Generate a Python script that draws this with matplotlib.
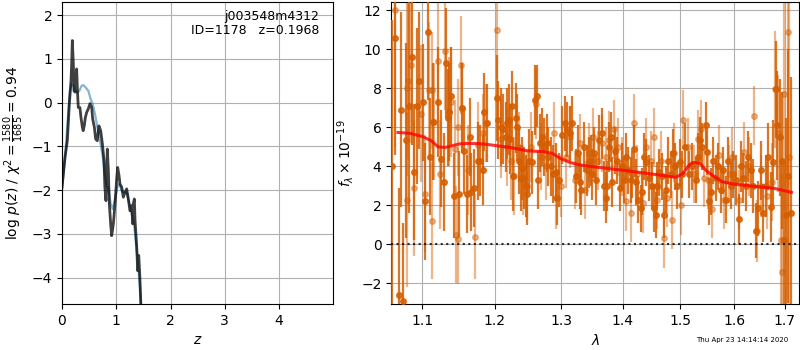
import numpy as np
import matplotlib
matplotlib.use("Agg")
import matplotlib.pyplot as plt
from matplotlib.ticker import NullLocator, NullFormatter

# p(z) curves
z_fit = [0.0, 0.055, 0.098, 0.135, 0.166, 0.178, 0.19, 0.209, 0.221, 0.24, 0.258, 0.27, 0.283,
         0.30, 0.33, 0.35, 0.375, 0.39, 0.41, 0.43, 0.455, 0.485, 0.516, 0.547, 0.565, 0.596,
         0.62, 0.65, 0.68, 0.713, 0.744, 0.774, 0.79, 0.81, 0.824, 0.835, 0.854, 0.872, 0.897,
         0.915, 0.946, 0.977, 1.008, 1.026, 1.051, 1.069, 1.10, 1.13, 1.161, 1.192, 1.222,
         1.253, 1.285, 1.303, 1.315, 1.333, 1.346, 1.377, 1.395, 1.414, 1.432, 1.45, 1.456]
logp_fit = [-1.93, -1.25, -0.87, -0.03, 0.50, 0.88, 1.42, 0.88, 0.27, 0.24, 0.31, 0.77, 0.31,
            -0.11, -0.11, -0.34, -0.56, -0.64, -0.53, -0.34, -0.22, -0.14, -0.02, -0.11, -0.37,
            -0.56, -0.83, -0.87, -0.53, -0.64, -0.94, -1.32, -1.93, -2.24, -1.55, -1.06, -1.55,
            -2.31, -2.77, -3.04, -2.77, -2.31, -1.74, -1.48, -1.67, -1.86, -1.93, -2.16, -2.05,
            -1.97, -2.20, -2.47, -2.35, -2.77, -2.31, -2.20, -2.69, -3.30, -3.84, -3.49, -3.91,
            -4.52, -4.67]

z_smooth = [0.0, 0.06, 0.117, 0.147, 0.178, 0.209, 0.24, 0.283, 0.32, 0.363, 0.393, 0.442,
            0.485, 0.529, 0.565, 0.608, 0.651, 0.70, 0.744, 0.78, 0.824, 0.854, 0.897, 0.934,
            0.977, 1.02, 1.057, 1.10, 1.143, 1.192, 1.241, 1.285, 1.327, 1.364, 1.40, 1.438,
            1.456]
logp_smooth = [-2.0, -1.2, -0.18, 0.27, 0.43, 0.39, 0.27, 0.24, 0.27, 0.39, 0.40, 0.34,
               0.27, 0.08, -0.03, -0.26, -0.56, -0.87, -1.17, -1.55, -1.93, -1.93, -2.31,
               -2.43, -2.20, -1.93, -1.86, -2.01, -2.05, -2.05, -2.31, -2.54, -2.77, -3.23,
               -3.68, -4.22, -4.67]

# spectrum, first orientation
wave_a = [1.0615, 1.0644, 1.0695, 1.0722, 1.0756, 1.0786, 1.0829, 1.0869, 1.0895, 1.0929,
          1.0963, 1.1010, 1.1036, 1.1074, 1.1112, 1.1151, 1.1215, 1.1249, 1.1288, 1.1315,
          1.1349, 1.1362, 1.1392, 1.1435, 1.1500, 1.1540, 1.1570, 1.1605, 1.1653, 1.1662,
          1.1707, 1.1769, 1.1799, 1.1831, 1.1853, 1.1893, 1.2041, 1.2051, 1.2089, 1.2128,
          1.2162, 1.2186, 1.2211, 1.2225, 1.2260, 1.2274, 1.2308, 1.2333, 1.2358, 1.2382,
          1.2407, 1.2432, 1.2457, 1.2482, 1.2507, 1.2557, 1.2592, 1.2622, 1.2648, 1.2673,
          1.2708, 1.2734, 1.2775, 1.2800, 1.2836, 1.2877, 1.2913, 1.2939, 1.2970, 1.3017,
          1.3054, 1.3096, 1.3138, 1.3175, 1.3228, 1.3265, 1.3297, 1.3319, 1.3362, 1.3405,
          1.3443, 1.3470, 1.3497, 1.3523, 1.3561, 1.3605, 1.3649, 1.3687, 1.3714, 1.3742,
          1.3769, 1.3797, 1.3824, 1.3868, 1.3907, 1.3946, 1.3979, 1.4018, 1.4046, 1.4091,
          1.4131, 1.4159, 1.4193, 1.4227, 1.4261, 1.4301, 1.4330, 1.4359, 1.4399, 1.4445,
          1.4492, 1.4527, 1.4562, 1.4591, 1.4620, 1.4667, 1.4714, 1.4750, 1.4785, 1.4827,
          1.4869, 1.4905, 1.4947, 1.4989, 1.5037, 1.5086, 1.5159, 1.5216, 1.5278, 1.5321,
          1.5358, 1.5400, 1.5462, 1.5493, 1.5524, 1.5568, 1.5605, 1.5648, 1.5692, 1.5742,
          1.5793, 1.5837, 1.5882, 1.5933, 1.5984, 1.6029, 1.6093, 1.6126, 1.6178, 1.6223,
          1.6269, 1.6321, 1.6374, 1.6420, 1.6466, 1.6519, 1.6572, 1.6618, 1.6665, 1.6719,
          1.6773, 1.6821, 1.6855, 1.6896, 1.6937, 1.6978, 1.7026, 1.7074, 1.7129]
flux_a = [4.0, 10.6, -2.6, 6.9, -2.9, 5.35, 7.1, 9.6, 3.7, 7.1,
          8.4, 7.3, 2.2, 10.9, 4.5, 6.3, 7.3, 4.4, 3.2, 9.3,
          6.5, 6.8, 7.6, 2.5, 2.6, 7.0, 4.8, 2.6, 5.5, 2.7,
          2.9, 4.3, 4.3, 3.8, 6.8, 6.2, 7.5, 6.4, 6.0, 5.9,
          5.5, 6.2, 6.4, 5.4, 7.1, 3.5, 6.5, 6.0, 4.3, 3.4,
          3.9, 3.4, 3.0, 2.6, 4.3, 4.2, 7.4, 7.6, 3.3, 5.2,
          5.5, 5.0, 5.2, 4.5, 4.0, 3.6, 3.7, 2.4, 3.3, 5.6,
          6.2, 5.9, 5.7, 6.2, 3.5, 4.7, 3.2, 2.8, 5.0, 3.8,
          4.2, 4.3, 3.6, 4.7, 3.3, 5.35, 5.7, 3.0, 2.4, 3.0,
          5.0, 5.5, 3.2, 4.8, 4.3, 2.9, 4.0, 3.3, 4.5, 3.8,
          3.3, 3.6, 4.9, 3.2, 2.3, 1.85, 2.7, 4.5, 4.2, 3.4,
          3.0, 1.85, 1.5, 3.0, 3.7, 3.5, 1.5, 2.8, 4.3, 3.6,
          4.7, 4.0, 3.0, 4.2, 3.6, 5.0, 3.6, 4.0, 3.3, 4.5,
          5.35, 5.0, 6.1, 4.75, 2.2, 2.7, 4.3, 3.4, 4.0, 2.8,
          3.8, 2.3, 4.3, 3.0, 3.6, 3.3, 1.3, 4.0, 3.4, 3.0,
          4.5, 3.8, 3.0, 0.7, 1.85, 3.8, 1.6, 3.0, 4.5, 1.9,
          4.2, 7.95, 6.1, 5.5, 4.3, 0.2, 1.5, 3.5, 1.6]
err_a = [7.5, 6.0, 5.5, 5.0, 4.0, 5.0, 5.5, 4.5, 3.5, 4.0,
         3.5, 3.0, 3.0, 3.5, 3.0, 3.0, 2.8, 2.5, 2.5, 2.8,
         2.5, 2.5, 2.5, 2.2, 2.2, 2.3, 2.2, 2.0, 2.0, 2.0,
         2.0, 2.0, 1.8, 1.8, 2.0, 2.0, 2.2, 2.0, 2.0, 1.8,
         1.8, 1.8, 1.8, 1.8, 1.8, 1.8, 1.8, 1.7, 1.7, 1.7,
         1.6, 1.6, 1.6, 1.6, 1.6, 1.6, 1.8, 1.6, 1.5, 1.5,
         1.5, 1.5, 1.5, 1.5, 1.5, 1.5, 1.5, 1.4, 1.4, 1.5,
         1.4, 1.4, 1.4, 1.4, 1.4, 1.4, 1.4, 1.3, 1.3, 1.3,
         1.3, 1.3, 1.3, 1.3, 1.3, 1.3, 1.3, 1.3, 1.3, 1.3,
         1.3, 1.3, 1.3, 1.2, 1.2, 1.2, 1.2, 1.2, 1.2, 1.2,
         1.2, 1.2, 1.2, 1.2, 1.2, 1.2, 1.2, 1.2, 1.2, 1.2,
         1.2, 1.2, 1.2, 1.2, 1.2, 1.2, 1.2, 1.2, 1.2, 1.2,
         1.2, 1.2, 1.2, 1.2, 1.2, 1.2, 1.2, 1.2, 1.2, 1.2,
         1.2, 1.2, 1.2, 1.2, 1.2, 1.2, 1.2, 1.2, 1.2, 1.2,
         1.2, 1.2, 1.2, 1.2, 1.2, 1.3, 1.3, 1.3, 1.3, 1.3,
         1.3, 1.4, 1.4, 1.4, 1.4, 1.5, 1.5, 1.6, 1.7, 1.8,
         2.2, 2.5, 2.8, 3.0, 3.5, 4.0, 5.0, 6.5, 7.0]

# spectrum, second orientation
wave_b = [1.0650, 1.0799, 1.0801, 1.0816, 1.0855, 1.0895, 1.0984, 1.1036, 1.1087, 1.1126,
          1.1138, 1.1164, 1.1215, 1.1245, 1.1306, 1.1358, 1.1388, 1.1444, 1.1457, 1.1483,
          1.1492, 1.1522, 1.1540, 1.1618, 1.1715, 1.1760, 1.1840, 1.1880, 1.2041, 1.2099,
          1.2176, 1.2235, 1.2284, 1.2358, 1.2422, 1.2472, 1.2532, 1.2607, 1.2683, 1.2760,
          1.2892, 1.2918, 1.2998, 1.3078, 1.3133, 1.3215, 1.3297, 1.3370, 1.3437, 1.3505,
          1.3594, 1.3660, 1.3725, 1.3769, 1.3852, 1.3923, 1.3990, 1.4057, 1.4136, 1.4182,
          1.4244, 1.4342, 1.4388, 1.4474, 1.4533, 1.4591, 1.4650, 1.4708, 1.4768, 1.4845,
          1.4887, 1.5008, 1.5050, 1.5130, 1.5247, 1.5321, 1.5383, 1.5431, 1.5506, 1.5587,
          1.5711, 1.5805, 1.5900, 1.5964, 1.6093, 1.6191, 1.6288, 1.6387, 1.6440, 1.6519,
          1.6652, 1.6753, 1.6801, 1.6869, 1.6924, 1.6937, 1.6992, 1.7061, 1.7095]
flux_b = [12.0, 8.0, 2.3, 8.4, 9.2, 2.9, 6.7, 2.6, 7.9, 1.2,
          7.9, 6.3, 9.4, 3.6, 9.9, 6.8, 7.3, 4.9, 0.5, 6.0,
          0.26, 9.2, 7.0, 3.8, 0.4, 5.1, 5.7, 6.2, 11.0, 5.4,
          5.0, 4.3, 3.5, 5.0, 3.3, 3.0, 5.0, 7.2, 4.5, 4.0,
          5.7, 2.4, 3.0, 4.5, 5.5, 3.3, 5.2, 2.8, 4.7, 5.5,
          4.3, 5.2, 4.5, 5.35, 5.9, 5.0, 4.0, 2.2, 1.6, 6.2,
          3.6, 2.1, 5.0, 4.3, 5.5, 2.3, 4.3, 0.3, 2.4, 1.25,
          4.7, 2.0, 6.4, 5.0, 3.6, 5.4, 5.9, 3.4, 3.3, 1.8,
          4.6, 2.3, 3.6, 4.5, 2.3, 4.75, 4.0, 6.6, 0.7, 3.0,
          2.5, 3.2, 7.95, 5.7, 0.2, -1.4, 7.7, 10.9, 4.5]
err_b = [7.0, 4.5, 4.5, 4.0, 4.0, 3.5, 3.5, 3.0, 3.5, 3.0,
         3.0, 3.0, 3.0, 2.8, 3.0, 2.8, 2.8, 2.5, 2.5, 2.5,
         2.3, 2.5, 2.3, 2.3, 2.2, 2.2, 2.0, 2.0, 2.5, 2.0,
         2.0, 2.0, 2.0, 1.8, 1.8, 1.8, 1.8, 1.8, 1.7, 1.7,
         1.6, 1.6, 1.6, 1.6, 1.6, 1.5, 1.5, 1.5, 1.5, 1.5,
         1.5, 1.5, 1.5, 1.5, 1.5, 1.5, 1.5, 1.5, 1.5, 1.5,
         1.5, 1.5, 1.5, 1.5, 1.5, 1.5, 1.5, 1.5, 1.5, 1.5,
         1.5, 1.5, 1.5, 1.5, 1.5, 1.5, 1.5, 1.5, 1.5, 1.5,
         1.5, 1.5, 1.5, 1.5, 1.5, 1.5, 1.5, 1.5, 1.6, 1.6,
         1.7, 2.0, 3.0, 3.0, 4.0, 5.0, 6.0, 8.0, 8.0]

# best-fit model
wave_model = [1.0686, 1.085, 1.101, 1.112, 1.1215, 1.1305, 1.139, 1.150, 1.163, 1.181,
              1.199, 1.224, 1.248, 1.273, 1.286, 1.2985, 1.314, 1.330, 1.351, 1.405,
              1.462, 1.491, 1.504, 1.516, 1.522, 1.528, 1.537, 1.546, 1.558, 1.577,
              1.599, 1.645, 1.679, 1.714]
flux_model = [5.74, 5.69, 5.52, 5.32, 5.0, 4.97, 5.04, 5.15, 5.18, 5.16,
              5.08, 4.96, 4.8, 4.75, 4.67, 4.41, 4.2, 4.07, 3.98, 3.78,
              3.56, 3.44, 3.61, 4.07, 4.19, 4.2, 4.12, 3.81, 3.56, 3.21,
              3.09, 2.96, 2.87, 2.67]

xticks_spec = [1.1, 1.2, 1.3, 1.4, 1.5, 1.6, 1.7]

grism_color = (0.835, 0.369, 0.0)

fig = plt.figure(figsize=(8, 3.5), dpi=100)

# left: p(z)
ax = fig.add_axes([0.0775, 0.1314, 0.3385, 0.8629])
ax.plot(z_smooth, logp_smooth, color='#1f77b4', alpha=0.55, lw=1.6)
ax.plot(z_fit, logp_fit, color='k', alpha=0.75, lw=2)
ax.set_xlim(0, 4.99)
ax.set_ylim(-4.6, 2.3)
ax.set_xticks([0, 1, 2, 3, 4])
ax.set_yticks([-4, -3, -2, -1, 0, 1, 2])
ax.grid()
ax.set_xlabel(r'$z$')
ax.set_ylabel(r'$\log\,p(z)$ / $\chi^2=\frac{1580}{1685}=0.94$')
ax.text(0.95, 0.975, 'j003548m4312\nID=1178   z=0.1968', ha='right', va='top',
        transform=ax.transAxes, fontsize=9, linespacing=1.1)

# right: spectrum
axc = fig.add_axes([0.489, 0.1314, 0.51, 0.8629])
axc.errorbar(wave_b, flux_b, yerr=err_b, color=grism_color, alpha=0.45,
             marker='o', ms=4, linestyle='None', elinewidth=1.6, zorder=2)
axc.errorbar(wave_a, flux_a, yerr=err_a, color=grism_color, alpha=0.85,
             marker='o', ms=4, linestyle='None', elinewidth=1.6, zorder=3)
axc.plot(wave_model, flux_model, color='r', alpha=0.8, lw=2.2, zorder=4)
axc.axhline(0, color='k', linestyle=':', lw=1.5, alpha=0.8, zorder=5)

axc.set_xscale('log')
axc.set_xlim(1.06, 1.73)
axc.set_ylim(-3.06, 12.43)
axc.set_xticks(xticks_spec)
axc.set_xticklabels([str(t) for t in xticks_spec])
axc.xaxis.set_minor_locator(NullLocator())
axc.xaxis.set_minor_formatter(NullFormatter())
axc.set_yticks([-2, 0, 2, 4, 6, 8, 10, 12])
axc.grid()
axc.set_xlabel(r'$\lambda$')
axc.set_ylabel(r'$f_\lambda\times10^{-19}$')

fig.text(0.985, 0.028, 'Thu Apr 23 14:14:14 2020', ha='right', va='center', fontsize=5)

fig.savefig('out.png', dpi=100)
